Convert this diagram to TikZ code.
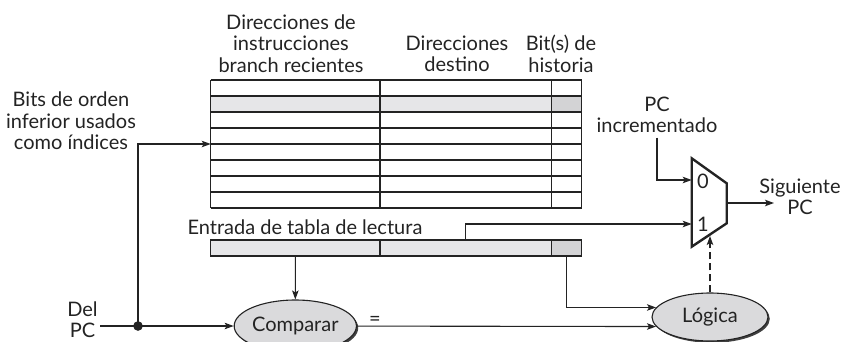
\documentclass[tikz,border=0pt]{standalone}
\usepackage{fontspec}
\setmainfont{Lato}
\usetikzlibrary{arrows.meta, shapes.geometric, shadows}
\definecolor{inkgray}{RGB}{35,35,35}
\definecolor{cellgray}{RGB}{230,230,232}
\definecolor{histgray}{RGB}{211,211,213}
\definecolor{ovalgray}{RGB}{218,218,220}

\begin{document}
\begin{tikzpicture}[
    x=1pt, y=-1pt,
    font=\fontsize{20}{21.5}\selectfont,
    text=inkgray,
    line width=1.1pt,
    lbl/.style={align=center, inner sep=1pt},
    dot/.style={circle, fill=inkgray, inner sep=3.4pt},
    tbl/.style={draw=inkgray, line width=1.1pt},
    cell/.style={draw=inkgray, fill=#1, minimum height=16pt, inner sep=0pt,
        outer sep=0pt, anchor=north west},
    cell/.default=cellgray,
    % Gray ovals with a dark drop shadow
    oval/.style={ellipse, draw=inkgray, fill=ovalgray, inner sep=0pt,
        drop shadow={shadow xshift=1.8pt, shadow yshift=-1.8pt,
            fill=black!75, opacity=1}},
    flow/.style={draw=inkgray, line width=1.1pt,
        -{Stealth[length=9pt, width=6.5pt, inset=2pt]}},
    muxline/.style={draw=inkgray, line width=2.4pt, line join=miter}
]
    \useasboundingbox (0,0) rectangle (852,341);
    \clip (0,0) rectangle (852,341);

    % Coordinates
    \coordinate (pcin)   at (100,326);
    \coordinate (fork)   at (138,326);
    \coordinate (tblidx) at (210.7,144);

    \coordinate (muxtl)  at (691.7,158.3);
    \coordinate (muxtr)  at (726.7,183.3);
    \coordinate (muxbr)  at (726.7,223.3);
    \coordinate (muxbl)  at (691.7,246.7);
    \coordinate (muxin0) at (691.7,180);
    \coordinate (muxin1) at (691.7,224);
    \coordinate (muxsel) at (710,236);
    \coordinate (muxout) at (726.7,203);
    \coordinate (nextpc) at (774,203);

    % Branch target table (8 entries)
    \fill[cellgray] (210.7,96) rectangle (551.7,112);
    \fill[histgray] (551.7,96) rectangle (581.7,112);
    \foreach \y in {80,96,...,208}
        \draw[tbl] (210.7,\y) -- (581.7,\y);
    \draw[tbl] (210.7,80) -- (210.7,208)  (380,80) -- (380,208)
               (551.7,80) -- (551.7,208)  (581.7,80) -- (581.7,208);

    % Column headings
    \node[lbl] (hdaddr) at (291,43.5) {Direcciones de\\instrucciones\\branch recientes};
    \node[lbl] (hdtgt)  at (457,54) {Direcciones\\destino};
    \node[lbl] (hdhist) at (561,54) {Bit(s) de\\historia};

    % Entry read from the table
    \node[lbl, anchor=west] (entlbl) at (186,227) {Entrada de tabla de lectura};
    \node[cell, minimum width=169.3pt] (entaddr) at (210.7,240) {};
    \node[cell, minimum width=171.7pt] (enttgt)  at (380,240) {};
    \node[cell=histgray, minimum width=30pt] (enthist) at (551.7,240) {};

    % Left side inputs
    \node[lbl] (idxlbl) at (71,121) {Bits de orden\\inferior usados\\como índices};
    \node[lbl] (delpc) at (82.5,319.5) {Del\\PC};

    % Compare and logic blocks
    \node[oval, minimum width=117pt, minimum height=52pt] (comparar) at (295.3,326) {Comparar};
    \node[oval, minimum width=116pt, minimum height=48pt] (logica) at (710,317) {Lógica};

    % Multiplexer
    \draw[muxline] (muxtl) -- (muxtr) -- (muxbr) -- (muxbl) -- cycle;
    \node (mux0) at (703,181) {0};
    \node (mux1) at (703,224) {1};
    \node[lbl, inner sep=4pt] (pcinc) at (657,115) {PC\\incrementado};
    \node[lbl] (sigpc) at (800,197) {Siguiente\\PC};

    % Connections
    \draw[flow] (pcin) -- (comparar);
    \draw[flow] (fork) |- (tblidx);
    \node[dot] (forkdot) at (fork) {};
    \draw[flow] (entaddr.south) -- (comparar);
    \draw[flow] (enttgt.north) |- (muxin1);
    \draw[flow] (enthist.south) |- (logica.170);
    \draw[flow] (comparar) -- (logica.190)
        node[pos=0.06, above=-1pt, inner sep=1pt] (eqlbl) {=};
    \draw[flow, dash pattern=on 7pt off 4pt] (logica) -- (muxsel);
    \draw[flow] (pcinc.south) |- (muxin0);
    \draw[flow] (muxout) -- (nextpc);

\end{tikzpicture}
\end{document}
